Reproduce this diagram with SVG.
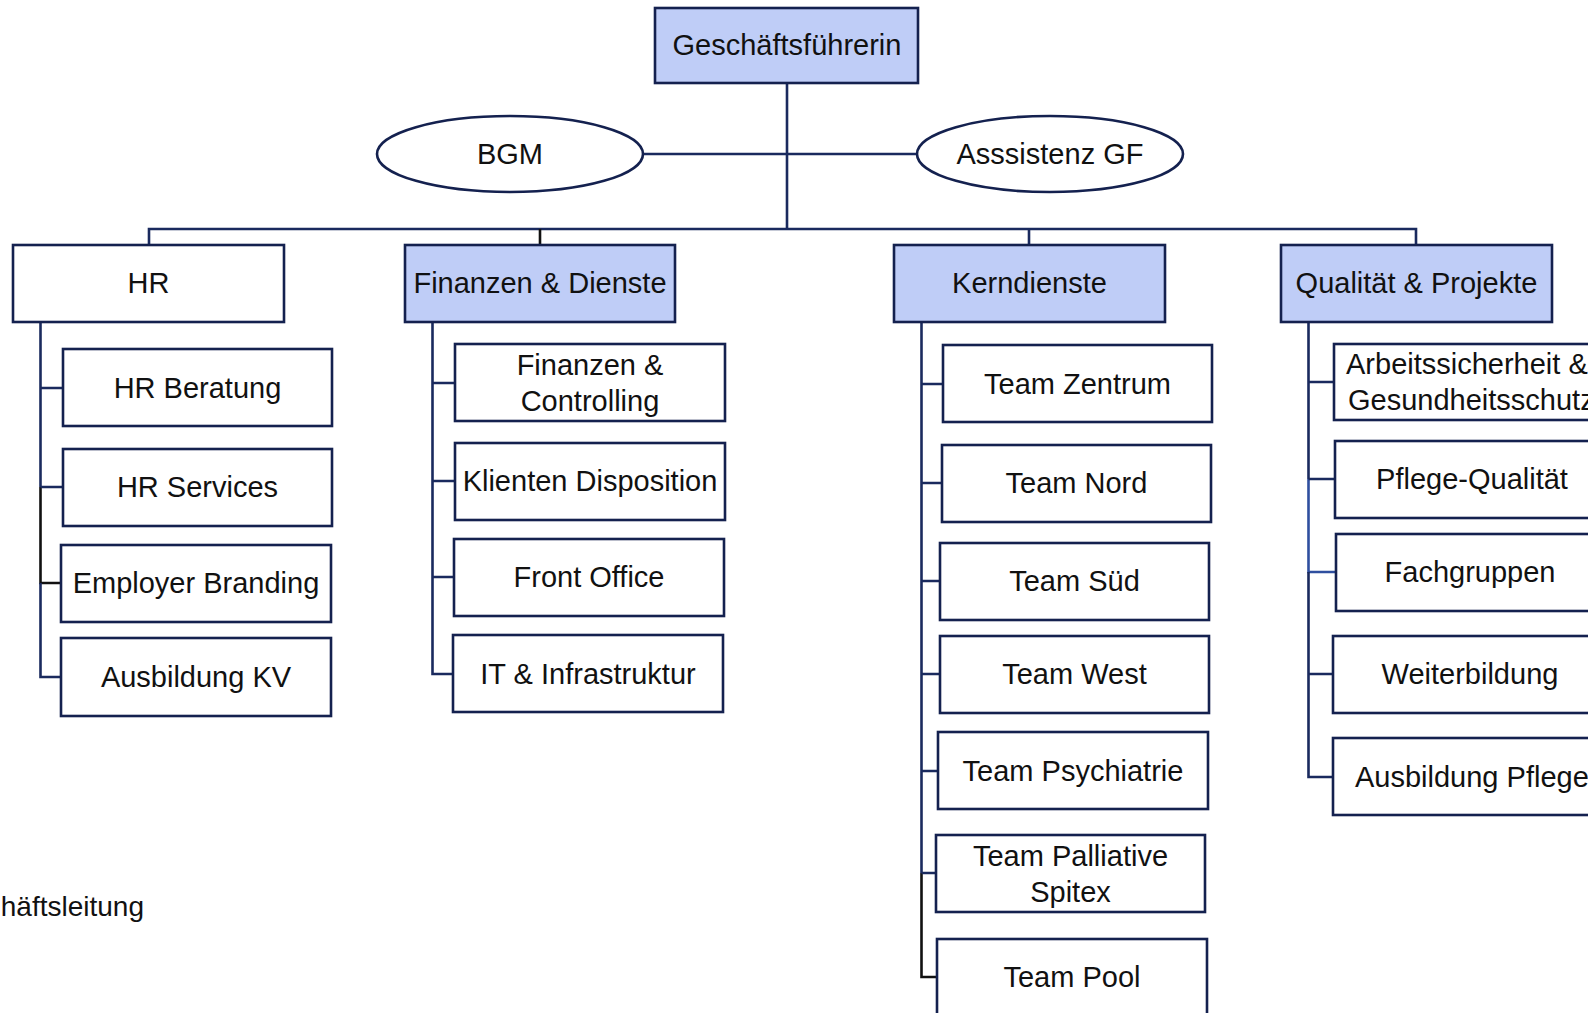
<svg xmlns="http://www.w3.org/2000/svg" width="1588" height="1013" viewBox="0 0 1588 1013">
<style>
.box{fill:#ffffff;stroke:#14214f;stroke-width:2.6}
.blue{fill:#bfcdf7}
.ln{fill:none;stroke:#1a2a5e;stroke-width:2.6}
.blk{stroke:#111111}
.lb{stroke:#2f4f9f}
text{font-family:"Liberation Sans",Arial,sans-serif;font-size:29px;fill:#111111}
.c{text-anchor:middle}
</style>
<rect width="1588" height="1013" fill="#ffffff"/>
<g id="connectors">
<path class="ln" d="M787 83 V229"/>
<path class="ln" d="M643 154 H917"/>
<path class="ln" d="M149 245 V229 H1416 V245"/>
<path class="ln blk" d="M540 229 V245"/>
<path class="ln" d="M1029 229 V245"/>
<path class="ln" d="M40.5 322 V487"/>
<path class="ln blk" d="M40.5 487 V583 H61"/>
<path class="ln" d="M40.5 583 V677 H61"/>
<path class="ln" d="M40.5 388 H63 M40.5 487 H63"/>
<path class="ln" d="M432.5 322 V674 H453"/>
<path class="ln" d="M432.5 383 H455 M432.5 481 H455 M432.5 577 H454"/>
<path class="ln" d="M921.5 322 V873"/>
<path class="ln blk" d="M921.5 873 V977 H937"/>
<path class="ln" d="M921.5 384 H943 M921.5 483 H942 M921.5 581 H940 M921.5 674 H940 M921.5 771 H938 M921.5 873 H936"/>
<path class="ln" d="M1308.5 322 V479"/>
<path class="ln lb" d="M1308.5 479 V572 H1336"/>
<path class="ln" d="M1308.5 572 V777 H1333"/>
<path class="ln" d="M1308.5 382 H1334 M1308.5 479 H1335 M1308.5 674 H1333"/>
</g>
<g id="n-gf"><rect class="box blue" x="655" y="8" width="263" height="75"/><text class="c" x="787" y="55">Geschäftsführerin</text></g>
<g id="n-bgm"><ellipse class="box" cx="510" cy="154" rx="133" ry="38"/><text class="c" x="510" y="164">BGM</text></g>
<g id="n-assistenz"><ellipse class="box" cx="1050" cy="154" rx="133" ry="38"/><text class="c" x="1050" y="164">Asssistenz GF</text></g>
<g id="n-hr"><rect class="box" x="13" y="245" width="271" height="77"/><text class="c" x="148.5" y="293">HR</text></g>
<g id="n-fin"><rect class="box blue" x="405" y="245" width="270" height="77"/><text class="c" x="540" y="293">Finanzen &amp; Dienste</text></g>
<g id="n-kern"><rect class="box blue" x="894" y="245" width="271" height="77"/><text class="c" x="1029.5" y="293">Kerndienste</text></g>
<g id="n-qual"><rect class="box blue" x="1281" y="245" width="271" height="77"/><text class="c" x="1416.5" y="293">Qualität &amp; Projekte</text></g>
<g id="n-hrb"><rect class="box" x="63" y="349" width="269" height="77"/><text class="c" x="197.5" y="398">HR Beratung</text></g>
<g id="n-hrs"><rect class="box" x="63" y="449" width="269" height="77"/><text class="c" x="197.5" y="497">HR Services</text></g>
<g id="n-emp"><rect class="box" x="61" y="545" width="270" height="77"/><text class="c" x="196" y="593">Employer Branding</text></g>
<g id="n-akv"><rect class="box" x="61" y="638" width="270" height="78"/><text class="c" x="196" y="687">Ausbildung KV</text></g>
<g id="n-fc"><rect class="box" x="455" y="344" width="270" height="77"/><text class="c" x="590" y="375">Finanzen &amp;</text><text class="c" x="590" y="411">Controlling</text></g>
<g id="n-kd"><rect class="box" x="455" y="443" width="270" height="77"/><text class="c" x="590" y="491">Klienten Disposition</text></g>
<g id="n-fo"><rect class="box" x="454" y="539" width="270" height="77"/><text class="c" x="589" y="587">Front Office</text></g>
<g id="n-it"><rect class="box" x="453" y="635" width="270" height="77"/><text class="c" x="588" y="684">IT &amp; Infrastruktur</text></g>
<g id="n-tz"><rect class="box" x="943" y="345" width="269" height="77"/><text class="c" x="1077.5" y="394">Team Zentrum</text></g>
<g id="n-tn"><rect class="box" x="942" y="445" width="269" height="77"/><text class="c" x="1076.5" y="493">Team Nord</text></g>
<g id="n-ts"><rect class="box" x="940" y="543" width="269" height="77"/><text class="c" x="1074.5" y="591">Team Süd</text></g>
<g id="n-tw"><rect class="box" x="940" y="636" width="269" height="77"/><text class="c" x="1074.5" y="684">Team West</text></g>
<g id="n-tpsy"><rect class="box" x="938" y="732" width="270" height="77"/><text class="c" x="1073" y="781">Team Psychiatrie</text></g>
<g id="n-tpal"><rect class="box" x="936" y="835" width="269" height="77"/><text class="c" x="1070.5" y="866">Team Palliative</text><text class="c" x="1070.5" y="902">Spitex</text></g>
<g id="n-tpool"><rect class="box" x="937" y="939" width="270" height="90"/><text class="c" x="1072" y="987">Team Pool</text></g>
<g id="n-ags"><rect class="box" x="1334" y="344" width="270" height="76"/><text x="1346" y="374">Arbeitssicherheit &amp;</text><text x="1348" y="410">Gesundheitsschutz</text></g>
<g id="n-pq"><rect class="box" x="1335" y="441" width="270" height="77"/><text class="c" x="1472" y="489">Pflege-Qualität</text></g>
<g id="n-fg"><rect class="box" x="1336" y="534" width="270" height="77"/><text class="c" x="1470" y="582">Fachgruppen</text></g>
<g id="n-wb"><rect class="box" x="1333" y="636" width="270" height="77"/><text class="c" x="1470" y="684">Weiterbildung</text></g>
<g id="n-ap"><rect class="box" x="1333" y="738" width="270" height="77"/><text x="1355" y="787">Ausbildung Pflege</text></g>
<text x="144" y="916" style="text-anchor:end;font-size:28px">häftsleitung</text>
</svg>
